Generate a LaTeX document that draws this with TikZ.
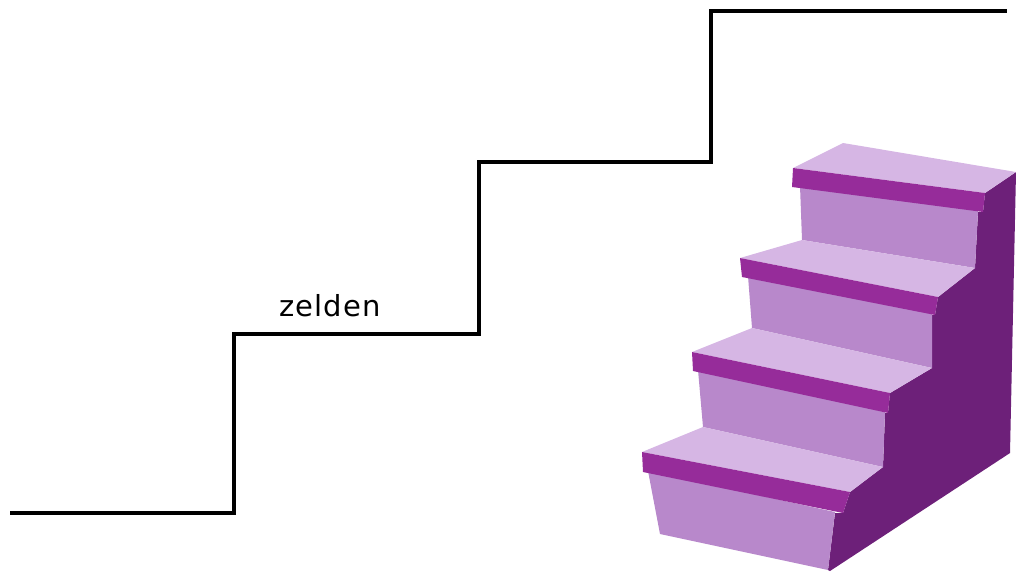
\documentclass[tikz,border=0pt]{standalone}
\usepackage{fontspec}
\newfontfamily\labelfont[LetterSpace=4]{DejaVu Sans}
\definecolor{treadc}{HTML}{D6B6E4}
\definecolor{nosec}{HTML}{962C9A}
\definecolor{riserc}{HTML}{B888CB}
\definecolor{sidec}{HTML}{6D2079}
\tikzset{
  stepline/.style={line width=3.5pt, black, line join=miter},
  tread/.style={fill=treadc},
  nose/.style={fill=nosec},
  riser/.style={fill=riserc},
  side/.style={fill=sidec},
  lbl/.style={font=\labelfont\fontsize{29}{34}\selectfont, anchor=base, inner sep=0pt}
}
\begin{document}
\begin{tikzpicture}[x=1pt,y=-1pt]
\path[use as bounding box] (0,0) rectangle (1016,571);
% step line
\coordinate (s0) at (10,513);
\coordinate (s1) at (234,513);
\coordinate (s2) at (234,334);
\coordinate (s3) at (479,334);
\coordinate (s4) at (479,162);
\coordinate (s5) at (711,162);
\coordinate (s6) at (711,11);
\coordinate (s7) at (1007,11);
\draw[stepline] (s0) -- (s1) -- (s2) -- (s3) -- (s4) -- (s5) -- (s6) -- (s7);
\node[lbl] (zelden) at (330,316) {zelden};
% staircase: dark side
\path[side] (985,193) -- (1016,172) -- (1010,453) -- (830,571) -- (828,570)
  -- (835,513) -- (843,513) -- (850,492) -- (883,467) -- (885,413) -- (888,413)
  -- (890,393) -- (932,368) -- (932,315) -- (935,315) -- (938,297) -- (975,268)
  -- (978,212) -- (983,212) -- cycle;
% step 1
\path[tread] (843,143) -- (1016,172) -- (985,193) -- (793,168) -- cycle;
\path[riser] (800,186) -- (978,211) -- (975,268) -- (802,240) -- cycle;
\path[nose] (793,168) -- (985,193) -- (983,212) -- (792,187) -- cycle;
% step 2
\path[tread] (802,240) -- (975,268) -- (938,297) -- (740,258) -- cycle;
\path[riser] (748,276) -- (932,314) -- (932,368) -- (752,328) -- cycle;
\path[nose] (740,258) -- (938,297) -- (935,315) -- (742,277) -- cycle;
% step 3
\path[tread] (752,328) -- (932,368) -- (890,393) -- (692,352) -- cycle;
\path[riser] (698,370) -- (885,412) -- (883,467) -- (703,427) -- cycle;
\path[nose] (692,352) -- (890,393) -- (888,413) -- (693,371) -- cycle;
% step 4
\path[tread] (703,427) -- (883,467) -- (850,492) -- (642,452) -- cycle;
\path[riser] (648,471) -- (835,512) -- (828,570) -- (660,534) -- cycle;
\path[nose] (642,452) -- (850,492) -- (843,513) -- (643,472) -- cycle;
\end{tikzpicture}
\end{document}
